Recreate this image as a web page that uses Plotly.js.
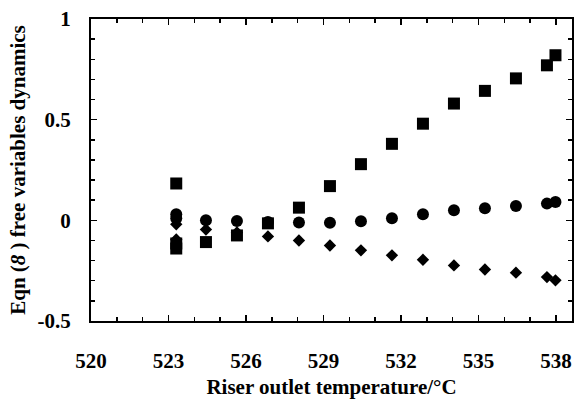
<!DOCTYPE html>
<html>
<head>
<meta charset="utf-8">
<script src="https://cdn.plot.ly/plotly-3.0.1.min.js"></script>
<style>html,body{margin:0;padding:0;background:#fff}#chart{width:583px;height:399px}</style>
</head>
<body>
<div id="chart"></div>
<script>
// Square series
const squareX = [523.3, 523.3, 523.3, 524.45, 525.65, 526.85, 528.05, 529.25, 530.45, 531.65, 532.85, 534.05, 535.25, 536.45, 537.65, 537.98];
const squareY = [0.183, -0.115, -0.14, -0.108, -0.075, -0.015, 0.063, 0.17, 0.279, 0.38, 0.48, 0.58, 0.643, 0.705, 0.77, 0.82];
// Circle series
const circleX = [523.3, 523.3, 524.45, 525.65, 526.85, 528.05, 529.25, 530.45, 531.65, 532.85, 534.05, 535.25, 536.45, 537.65, 537.98];
const circleY = [0.03, 0.01, 0.0, -0.003, -0.008, -0.011, -0.012, -0.005, 0.01, 0.03, 0.05, 0.06, 0.071, 0.083, 0.091];
// Diamond series
const diamondX = [523.3, 523.3, 524.45, 525.65, 526.85, 528.05, 529.25, 530.45, 531.65, 532.85, 534.05, 535.25, 536.45, 537.65, 537.98];
const diamondY = [-0.02, -0.095, -0.046, -0.06, -0.08, -0.1, -0.125, -0.149, -0.174, -0.196, -0.224, -0.244, -0.26, -0.282, -0.298];

const xTickVals = [520, 523, 526, 529, 532, 535, 538];
const xTickText = ['520', '523', '526', '529', '532', '535', '538'];
const yTickVals = [-0.5, 0, 0.5, 1];
const yTickText = ['-0.5', '0', '0.5', '1'];

const font = 'Liberation Serif, Times New Roman, serif';

const traces = [
  {x: diamondX, y: diamondY, mode: 'markers', type: 'scatter',
   marker: {symbol: 'diamond', size: 9.5, color: '#000'}},
  {x: circleX, y: circleY, mode: 'markers', type: 'scatter',
   marker: {symbol: 'circle', size: 12, color: '#000'}},
  {x: squareX, y: squareY, mode: 'markers', type: 'scatter',
   marker: {symbol: 'square', size: 12, color: '#000'}}
];

const layout = {
  width: 583, height: 399,
  margin: {l: 91, r: 11, t: 19, b: 78},
  showlegend: false,
  paper_bgcolor: '#fff', plot_bgcolor: '#fff',
  font: {family: font, color: '#000'},
  xaxis: {
    range: [520, 538.62],
    tickmode: 'array', tickvals: xTickVals, ticktext: xTickText,
    ticks: 'inside', ticklen: 6, tickwidth: 1.5, tickcolor: '#000',
    minor: {dtick: 1, tick0: 520, ticks: 'inside', ticklen: 4, tickwidth: 1.5, tickcolor: '#000', showgrid: false},
    showline: true, linewidth: 2, linecolor: '#000', mirror: 'ticks',
    showgrid: false, zeroline: false,
    tickfont: {family: font, size: 21, weight: 'bold'},
    ticklabelstandoff: 20,
    title: {text: 'Riser outlet temperature/°C', font: {family: font, size: 21, weight: 'bold'}, standoff: 13}
  },
  yaxis: {
    range: [-0.5, 1],
    tickmode: 'array', tickvals: yTickVals, ticktext: yTickText,
    ticks: 'inside', ticklen: 6, tickwidth: 1.5, tickcolor: '#000',
    minor: {dtick: 0.1, tick0: 0, ticks: 'inside', ticklen: 4, tickwidth: 1.5, tickcolor: '#000', showgrid: false},
    showline: true, linewidth: 2, linecolor: '#000', mirror: 'ticks',
    showgrid: false, zeroline: false,
    tickfont: {family: font, size: 21, weight: 'bold'},
    ticklabelstandoff: 14,
    title: {text: 'Eqn (<i>8</i> ) free variables dynamics', font: {family: font, size: 21, weight: 'bold'}, standoff: 6}
  }
};

Plotly.newPlot('chart', traces, layout, {displayModeBar: false, staticPlot: true});
</script>
</body>
</html>
